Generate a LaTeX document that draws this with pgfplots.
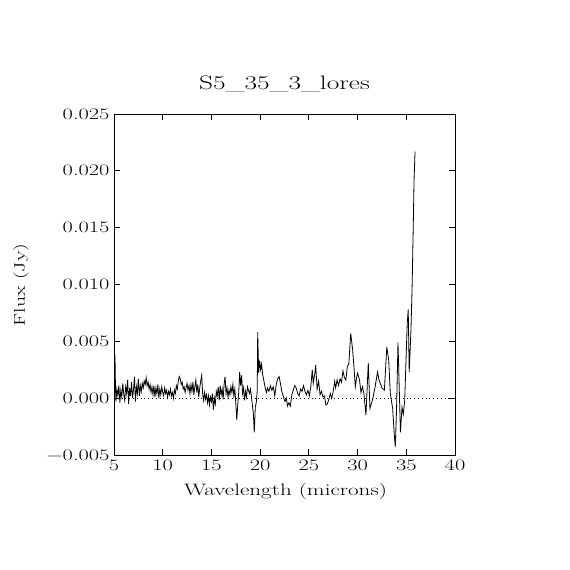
\documentclass[border=0pt]{standalone}
\usepackage{fontspec}
\setmainfont{Latin Modern Roman}[FakeStretch=1.4]
\usepackage{pgfplots}
\pgfplotsset{compat=1.18}
\pgfplotstableread{
x y
5.00 0.0045
5.05 0.0030
5.10 0.0038
5.15 0.0010
5.20 -0.0003
5.30 0.0008
5.40 0.0002
5.50 0.0011
5.60 -0.0004
5.70 0.0007
5.80 0.0001
5.90 0.0013
6.00 0.0003
6.10 -0.0002
6.20 0.0010
6.30 0.0004
6.40 0.0016
6.50 -0.0005
6.60 0.0009
6.70 0.0002
6.80 0.0014
6.90 0.0000
7.00 0.0007
7.10 0.0019
7.20 -0.0003
7.30 0.0010
7.40 0.0004
7.50 0.0017
7.60 0.0002
7.70 0.0011
7.80 0.0006
7.90 0.0013
8.00 0.0009
8.10 0.0015
8.20 0.0012
8.30 0.0018
8.40 0.0011
8.50 0.0014
8.60 0.0008
8.70 0.0012
8.80 0.0005
8.90 0.0010
9.00 0.0003
9.10 0.0011
9.20 0.0001
9.30 0.0009
9.40 0.0004
9.50 0.0012
9.60 0.0000
9.70 0.0008
9.80 0.0003
9.90 0.0010
10.00 0.0005
10.10 0.0002
10.20 0.0009
10.30 0.0004
10.40 0.0007
10.50 0.0001
10.60 0.0006
10.70 0.0003
10.80 0.0008
10.90 0.0002
11.00 0.0005
11.10 0.0000
11.20 0.0007
11.30 0.0004
11.40 0.0011
11.50 0.0008
11.60 0.0015
11.70 0.0019
11.80 0.0017
11.90 0.0012
12.00 0.0014
12.10 0.0008
12.20 0.0010
12.30 0.0005
12.40 0.0009
12.50 0.0013
12.60 0.0007
12.70 0.0011
12.80 0.0004
12.90 0.0012
13.00 0.0006
13.10 0.0014
13.20 0.0003
13.30 0.0010
13.40 0.0016
13.50 0.0005
13.60 0.0012
13.70 0.0001
13.80 0.0009
13.90 0.0015
14.00 0.0020
14.10 0.0004
14.20 -0.0002
14.30 0.0005
14.40 -0.0001
14.50 0.0003
14.60 -0.0004
14.70 0.0002
14.80 -0.0006
14.90 0.0001
15.00 -0.0003
15.10 0.0004
15.20 -0.0010
15.30 0.0000
15.40 -0.0005
15.50 0.0006
15.60 0.0002
15.70 0.0010
15.80 -0.0002
15.90 0.0011
16.00 0.0003
16.10 0.0008
16.20 -0.0001
16.30 0.0012
16.40 0.0019
16.50 0.0004
16.60 0.0009
16.70 0.0001
16.80 0.0007
16.90 0.0003
17.00 0.0010
17.10 0.0005
17.20 0.0012
17.30 0.0002
17.40 0.0008
17.50 -0.0004
17.60 -0.0019
17.70 -0.0006
17.80 0.0005
17.90 0.0023
18.00 0.0011
18.10 0.0020
18.20 0.0004
18.30 0.0009
18.40 -0.0002
18.50 0.0006
18.60 0.0001
18.70 0.0010
18.80 0.0007
18.90 0.0004
19.00 0.0008
19.10 0.0002
19.20 -0.0006
19.30 -0.0013
19.40 -0.0030
19.50 -0.0008
19.60 -0.0004
19.70 0.0006
19.75 0.0058
19.85 0.0022
19.95 0.0033
20.05 0.0025
20.15 0.0030
20.25 0.0021
20.35 0.0017
20.45 0.0012
20.55 0.0008
20.65 0.0005
20.75 0.0009
20.90 0.0006
21.05 0.0011
21.20 0.0007
21.35 0.0010
21.50 0.0002
21.65 0.0012
21.80 0.0017
21.95 0.0019
22.10 0.0012
22.25 0.0005
22.40 0.0001
22.55 -0.0003
22.70 0.0000
22.80 -0.0007
22.95 -0.0004
23.10 -0.0007
23.25 0.0003
23.40 0.0007
23.55 0.0011
23.70 0.0009
23.85 0.0004
24.00 0.0002
24.15 0.0008
24.30 0.0006
24.45 0.0011
24.60 0.0006
24.75 0.0003
24.90 0.0007
25.05 0.0002
25.20 0.0010
25.35 0.0025
25.45 0.0013
25.60 0.0021
25.70 0.0029
25.85 0.0008
26.00 0.0015
26.15 0.0003
26.30 0.0006
26.45 0.0001
26.60 0.0002
26.75 -0.0006
26.90 -0.0005
27.05 -0.0001
27.20 0.0004
27.35 0.0000
27.50 0.0006
27.65 0.0015
27.75 0.0009
27.90 0.0016
28.05 0.0011
28.20 0.0017
28.35 0.0014
28.50 0.0024
28.65 0.0018
28.80 0.0016
28.95 0.0028
29.10 0.0030
29.30 0.0057
29.50 0.0042
29.65 0.0025
29.77 0.0010
29.90 0.0018
30.00 0.0022
30.20 0.0016
30.35 0.0005
30.50 0.0010
30.65 0.0004
30.86 -0.0015
31.10 0.0031
31.27 -0.0009
31.55 -0.0001
31.80 0.0010
32.05 0.0023
32.20 0.0016
32.50 0.0009
32.75 0.0007
33.00 0.0045
33.20 0.0033
33.36 0.0004
33.60 -0.0009
33.77 -0.0032
33.87 -0.0043
34.00 -0.0010
34.15 0.0049
34.40 -0.0030
34.56 -0.0008
34.70 -0.0014
34.84 -0.0002
34.97 0.0033
35.10 0.0066
35.20 0.0078
35.30 0.0023
35.48 0.0060
35.60 0.0099
35.70 0.0144
35.80 0.0193
35.90 0.0217
}\spec
\begin{document}
\begin{tikzpicture}[x=1pt,y=1pt]
\useasboundingbox (0,0) rectangle (570,570);
\begin{axis}[
  at={(114pt,115pt)}, anchor=south west,
  width=341pt, height=341pt, scale only axis,
  xmin=5, xmax=40, ymin=-0.005, ymax=0.025,
  xtick={5,10,15,20,25,30,35,40},
  xticklabels={5,10,15,20,25,30,35,40},
  ytick={-0.005,0,0.005,0.01,0.015,0.02,0.025},
  yticklabels={−0.005,0.000,0.005,0.010,0.015,0.020,0.025},
  scaled y ticks=false, scaled x ticks=false,
  minor tick num=0,
  tick align=inside, major tick length=6pt,
  tick style={line width=0.8pt, black},
  ticklabel style={font=\fontsize{16}{18}\selectfont},
  xticklabel style={yshift=-1pt},
  yticklabel style={xshift=-1pt},
  axis line style={line width=0.8pt},
  clip=true,
]
\addplot[black, line width=0.5pt, dash pattern=on 0.8pt off 3pt] coordinates {(5,0) (40,0)};
\addplot[black, line width=0.8pt] table[x=x,y=y] {\spec};
\end{axis}
\node[font=\fontsize{19.5}{22}\selectfont] at (284.5,486) {S5\_35\_3\_lores};
\node[font=\fontsize{16.5}{20}\selectfont] at (285.5,79) {Wavelength (microns)};
\node[font=\fontsize{15.5}{18}\selectfont, rotate=90] at (21,285) {Flux (Jy)};
\end{tikzpicture}
\end{document}
